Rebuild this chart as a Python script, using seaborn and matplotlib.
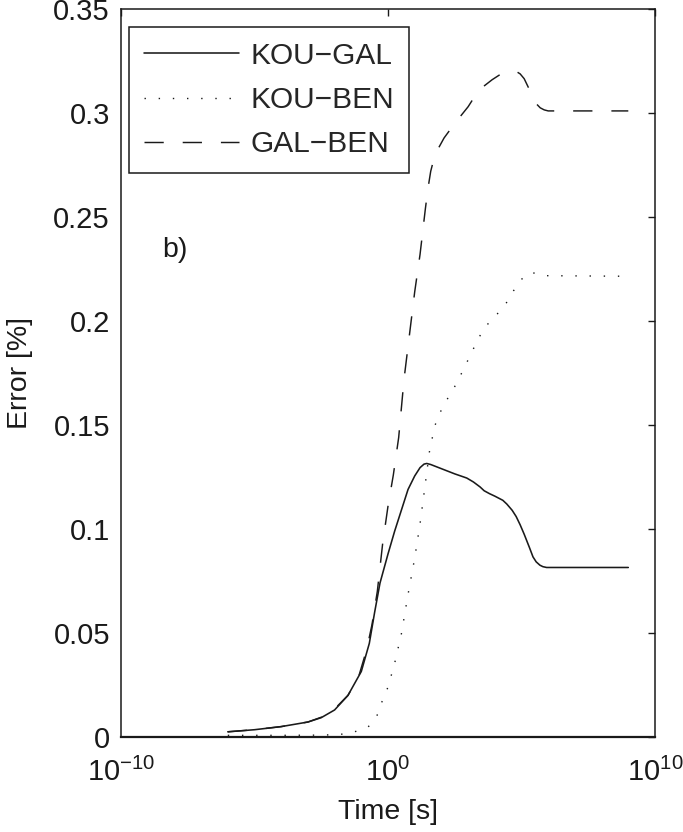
import numpy as np
import pandas as pd
import matplotlib
matplotlib.use("Agg")
import matplotlib.pyplot as plt
from matplotlib.ticker import NullLocator, FixedLocator, FixedFormatter
import seaborn as sns

# ---------------- data (log10 of time, error in %) ----------------
kou_gal_logt = [-6.0, -5.0, -4.0, -3.0, -2.5, -2.0, -1.5, -1.0, -0.7, -0.5, -0.3, 0.0,
                0.25, 0.5, 0.75, 1.0, 1.2, 1.35, 1.45, 1.6, 1.9, 2.2, 2.5, 2.95, 3.2,
                3.45, 3.6, 3.8, 4.0, 4.3, 4.45, 4.65, 4.8, 4.95, 5.1, 5.3, 5.43, 5.55,
                5.69, 5.8, 5.94, 9.0]
kou_gal_err = [0.0025, 0.0035, 0.0050, 0.0072, 0.0093, 0.0130, 0.0200, 0.0315, 0.0450,
               0.0600, 0.0740, 0.0880, 0.0990, 0.1090, 0.1190, 0.1255, 0.1295, 0.1312,
               0.1315, 0.1310, 0.1295, 0.1280, 0.1265, 0.1245, 0.1226, 0.1202, 0.1184,
               0.1170, 0.1158, 0.1138, 0.1120, 0.1090, 0.1060, 0.1020, 0.0975, 0.0910,
               0.0866, 0.0842, 0.0826, 0.0819, 0.0815, 0.0815]

kou_ben_logt = [-6.0, -4.0, -2.5, -1.8, -1.25, -0.75, -0.42, -0.24, 0.0, 0.25, 0.5, 0.75,
                1.0, 1.2, 1.4, 1.55, 1.75, 1.95, 2.2, 2.5, 2.8, 3.1, 3.4, 3.7, 4.1, 4.4,
                4.7, 5.0, 5.2, 5.4, 5.8, 9.0]
kou_ben_err = [0.0008, 0.0008, 0.0009, 0.0012, 0.0025, 0.0047, 0.0100, 0.0165, 0.0240,
               0.0355, 0.0495, 0.0685, 0.0860, 0.1025, 0.1220, 0.1370, 0.1495, 0.1560,
               0.1620, 0.1685, 0.1760, 0.1840, 0.1920, 0.1980, 0.2035, 0.2080, 0.2145,
               0.2200, 0.2225, 0.2233, 0.2218, 0.2215]

gal_ben_logt = [-6.0, -5.0, -4.0, -3.0, -2.5, -2.0, -1.5, -1.1, -0.8, -0.6, -0.4, -0.2,
                0.0, 0.2, 0.4, 0.6, 0.8, 1.0, 1.2, 1.4, 1.5, 1.6, 1.7, 1.8, 2.1, 2.5,
                3.0, 3.4, 3.9, 4.2, 4.4, 4.6, 4.8, 4.95, 5.1, 5.25, 5.4, 5.55, 5.7, 5.85,
                6.0, 9.0]
gal_ben_err = [0.0025, 0.0035, 0.0050, 0.0072, 0.0095, 0.0135, 0.0200, 0.0290, 0.0420,
               0.0540, 0.0700, 0.0930, 0.1110, 0.1260, 0.1440, 0.1720, 0.1930, 0.2140,
               0.2320, 0.2540, 0.2640, 0.2720, 0.2770, 0.2810, 0.2880, 0.2950, 0.3030,
               0.3110, 0.3160, 0.3185, 0.3197, 0.3202, 0.3200, 0.3188, 0.3165, 0.3125,
               0.3080, 0.3045, 0.3025, 0.3015, 0.3010, 0.3010]

series_names = ["KOU\u2212GAL", "KOU\u2212BEN", "GAL\u2212BEN"]
xtick_values = [1e-10, 1e0, 1e10]
ytick_values = [0, 0.05, 0.1, 0.15, 0.2, 0.25, 0.3, 0.35]
ytick_labels = ["0", "0.05", "0.1", "0.15", "0.2", "0.25", "0.3", "0.35"]

# ---------------- style ----------------
sns.set_style("white")
plt.rcParams["font.family"] = ["Liberation Sans", "DejaVu Sans"]
plt.rcParams["mathtext.fontset"] = "custom"
plt.rcParams["mathtext.rm"] = "Liberation Sans"
plt.rcParams["mathtext.it"] = "Liberation Sans:italic"
plt.rcParams["mathtext.bf"] = "Liberation Sans:bold"
plt.rcParams["font.size"] = 20

W, H = 683, 832
fig = plt.figure(figsize=(W / 100, H / 100), dpi=100)
fig.patch.set_facecolor("white")
L, R, T, B = 121, 655, 9, 737
ax = fig.add_axes([L / W, 1 - B / H, (R - L) / W, (B - T) / H])

ink = "#1a1a1a"
frames = [
    (kou_gal_logt, kou_gal_err, series_names[0]),
    (kou_ben_logt, kou_ben_err, series_names[1]),
    (gal_ben_logt, gal_ben_err, series_names[2]),
]
styles = [
    dict(lw=1.15, ls="-"),
    dict(lw=1.0, ls=(0, (1.0, 9.2))),
    dict(lw=1.05, ls=(0, (13.2, 13.0))),
]
for (lt, err, name), st in zip(frames, styles):
    df = pd.DataFrame({"t": np.power(10.0, np.array(lt)), "err": err})
    sns.lineplot(data=df, x="t", y="err", ax=ax, color=ink, label=name,
                 sort=False, estimator=None, linewidth=st["lw"])
    line = ax.lines[-1]
    line.set_linestyle(st["ls"])
    line.set_solid_joinstyle("round")
    line.set_dash_joinstyle("round")

ax.set_xscale("log")
ax.set_xlim(1e-10, 1e10)
ax.set_ylim(0, 0.35)
ax.xaxis.set_major_locator(FixedLocator(xtick_values))
ax.xaxis.set_minor_locator(NullLocator())
ax.yaxis.set_major_locator(FixedLocator(ytick_values))
ax.yaxis.set_major_formatter(FixedFormatter(ytick_labels))
ax.tick_params(axis="both", which="major", direction="in", length=5, width=1.0,
               colors=ink, labelsize=21, pad=8, top=True, right=True,
               labelcolor=ink)
ax.tick_params(axis="x", pad=15, labelsize=21)
for s in ax.spines.values():
    s.set_visible(True)
    s.set_color(ink)
    s.set_linewidth(1.1)
ax.spines["bottom"].set_linewidth(1.6)

ax.set_xlabel("Time [s]", fontsize=20.5, color=ink)
ax.set_ylabel("Error [%]", fontsize=20.5, color=ink)

ax.text(10 ** -8.45, 0.234, "b)", fontsize=20.5, color=ink, ha="left", va="center")

leg = ax.legend(loc="upper left",
                bbox_to_anchor=((129 - L) / (R - L), 1 - (27 - T) / (B - T)),
                borderaxespad=0, frameon=True, fancybox=False, framealpha=1,
                edgecolor=ink, fontsize=21.5, handlelength=3.2, handletextpad=0.38,
                borderpad=0.5, labelspacing=0.54)
leg.get_frame().set_linewidth(1.1)
for h, st in zip(leg.get_lines(), styles):
    h.set_linestyle(st["ls"])
    h.set_linewidth(st["lw"])
    h.set_color(ink)

fig.canvas.draw()
ax.xaxis.set_label_coords(0.5, ((1 - 812 / H) - (1 - B / H)) / ((B - T) / H),
                          transform=ax.transAxes)
ax.yaxis.set_label_coords((20 - L) / (R - L), 0.5, transform=ax.transAxes)
ax.xaxis.label.set_va("center")
ax.yaxis.label.set_va("center")

fig.savefig("out.png", dpi=100, facecolor="white")
